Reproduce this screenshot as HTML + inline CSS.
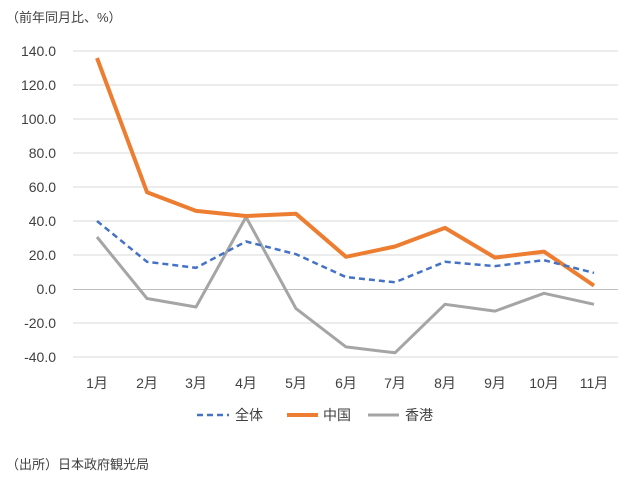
<!DOCTYPE html>
<html><head><meta charset="utf-8"><style>
body{margin:0;background:#fff}
svg text{font-family:"Liberation Sans","Noto Sans CJK JP",sans-serif;fill:#404040}
</style></head><body>
<svg width="624" height="482" xmlns="http://www.w3.org/2000/svg">
<rect width="624" height="482" fill="#fff"/>
<text x="6" y="22" font-size="13">（前年同月比、%）</text>
<g stroke="#d9d9d9" stroke-width="1">
<line x1="73" x2="618" y1="51" y2="51"/>
<line x1="73" x2="618" y1="85" y2="85"/>
<line x1="73" x2="618" y1="119" y2="119"/>
<line x1="73" x2="618" y1="153" y2="153"/>
<line x1="73" x2="618" y1="187" y2="187"/>
<line x1="73" x2="618" y1="221" y2="221"/>
<line x1="73" x2="618" y1="255" y2="255"/>
<line x1="73" x2="618" y1="323" y2="323"/>
<line x1="73" x2="618" y1="357" y2="357"/>
</g>
<line x1="73" x2="618" y1="289.5" y2="289.5" stroke="#bfbfbf"/>
<g font-size="14" text-anchor="end">
<text x="56" y="56">140.0</text>
<text x="56" y="90">120.0</text>
<text x="56" y="124">100.0</text>
<text x="56" y="158">80.0</text>
<text x="56" y="192">60.0</text>
<text x="56" y="226">40.0</text>
<text x="56" y="260">20.0</text>
<text x="56" y="294">0.0</text>
<text x="56" y="328">-20.0</text>
<text x="56" y="362">-40.0</text>
</g>
<g font-size="14" text-anchor="middle">
<text x="97" y="388">1月</text><text x="147" y="388">2月</text><text x="196" y="388">3月</text><text x="246" y="388">4月</text><text x="296" y="388">5月</text><text x="346" y="388">6月</text><text x="395" y="388">7月</text><text x="445" y="388">8月</text><text x="495" y="388">9月</text><text x="544" y="388">10月</text><text x="594" y="388">11月</text>
</g>
<polyline fill="none" stroke="#a5a5a5" stroke-width="3" stroke-linejoin="round" points="97,237 147,298.5 196,307 246,217 296,308.6 346,346.9 395,352.8 445,304.3 495,311.1 544,293.3 594,304.3"/>
<polyline fill="none" stroke="#ed7d31" stroke-width="4" stroke-linejoin="round" points="97,58 147,192.2 196,210.9 246,216 296,213.8 346,256.8 395,246.5 445,227.9 495,257.6 544,251.6 594,285.6"/>
<polyline fill="none" stroke="#4472c4" stroke-width="2.5" stroke-dasharray="6,4" points="97,221 147,261.8 196,267.8 246,241.5 296,254.2 346,277.1 395,282.3 445,261.8 495,266.1 544,260.2 594,272.9"/>
<line x1="197" x2="229" y1="415" y2="415" stroke="#4472c4" stroke-width="2.5" stroke-dasharray="6,4"/>
<text x="235" y="420" font-size="14">全体</text>
<line x1="287" x2="318" y1="415" y2="415" stroke="#ed7d31" stroke-width="4"/>
<text x="323" y="420" font-size="14">中国</text>
<line x1="368" x2="399" y1="415" y2="415" stroke="#a5a5a5" stroke-width="3"/>
<text x="405" y="420" font-size="14">香港</text>
<text x="6" y="469" font-size="13">（出所）日本政府観光局</text>
</svg>
</body></html>
